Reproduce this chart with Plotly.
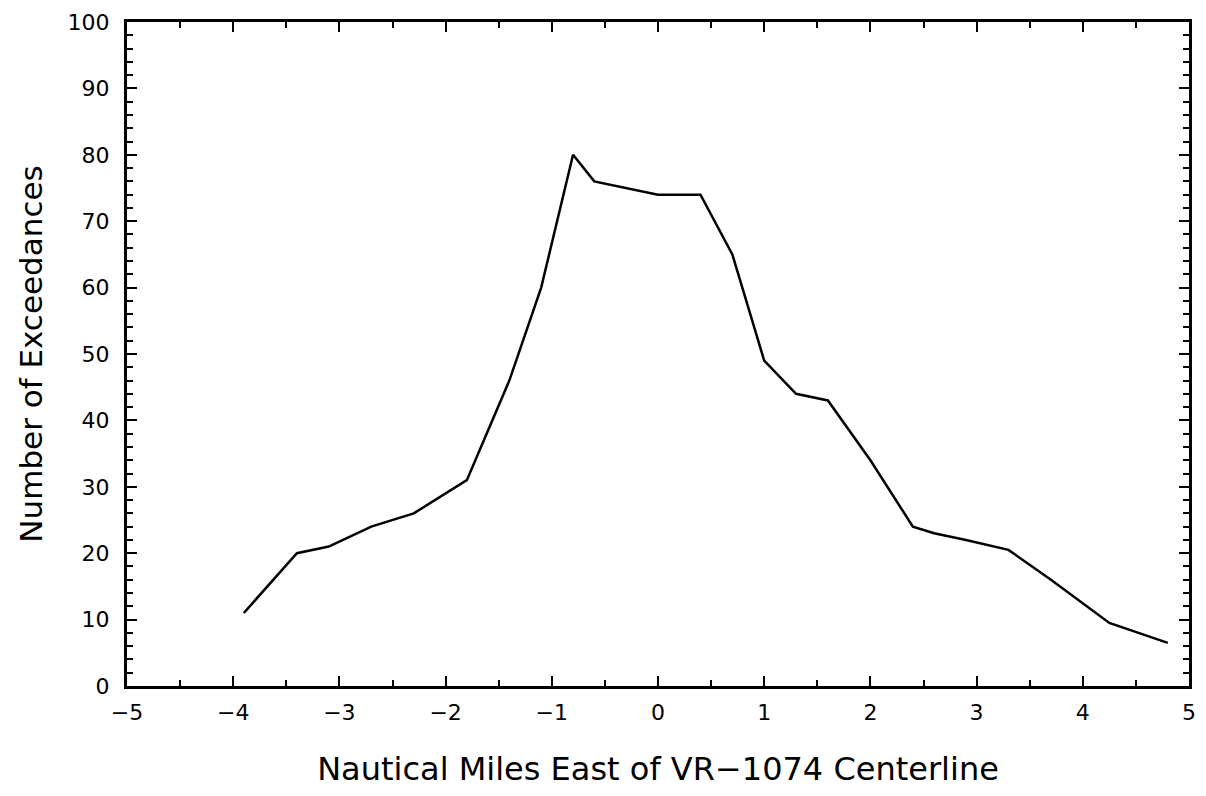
import plotly.graph_objects as go

# Data
miles_east = [-3.9, -3.4, -3.1, -2.7, -2.3, -1.8, -1.4, -1.1, -0.8, -0.6,
              0.0, 0.4, 0.7, 1.0, 1.3, 1.6, 2.0, 2.4, 2.6, 2.9, 3.3, 3.7,
              4.25, 4.8]
exceedances = [11, 20, 21, 24, 26, 31, 46, 60, 80, 76,
               74, 74, 65, 49, 44, 43, 34, 24, 23, 22, 20.5, 16,
               9.5, 6.5]

x_ticks = [-5, -4, -3, -2, -1, 0, 1, 2, 3, 4, 5]
y_ticks = [0, 10, 20, 30, 40, 50, 60, 70, 80, 90, 100]

font_family = "DejaVu Sans"

fig = go.Figure()
fig.add_trace(go.Scatter(
    x=miles_east, y=exceedances, mode="lines",
    line=dict(color="black", width=2.5),
    showlegend=False, hoverinfo="x+y",
))

axis_common = dict(
    showgrid=False, zeroline=False,
    showline=True, linecolor="black", linewidth=3, mirror="ticks",
    ticks="inside", ticklen=10, tickwidth=2, tickcolor="black",
    tickfont=dict(family=font_family, size=22, color="black"),
    ticklabeloverflow="allow",
)

fig.update_xaxes(
    range=[-5, 5], tickmode="array", tickvals=x_ticks,
    ticklabelstandoff=5,
    minor=dict(dtick=0.5, ticks="inside", ticklen=6, tickwidth=2, tickcolor="black"),
    title=dict(text="Nautical Miles East of VR\u22121074 Centerline",
               font=dict(family=font_family, size=32, color="black"), standoff=34),
    **axis_common,
)
fig.update_yaxes(
    range=[0, 100], tickmode="array", tickvals=y_ticks,
    ticklabelstandoff=10,
    minor=dict(dtick=2, ticks="inside", ticklen=6, tickwidth=2, tickcolor="black"),
    title=dict(text="Number of Exceedances",
               font=dict(family=font_family, size=31, color="black"), standoff=16),
    **axis_common,
)

fig.update_layout(
    width=1190, height=780,
    margin=dict(l=119, r=2, t=10, b=102),
    plot_bgcolor="white", paper_bgcolor="white",
)

fig.write_html("out.html")
